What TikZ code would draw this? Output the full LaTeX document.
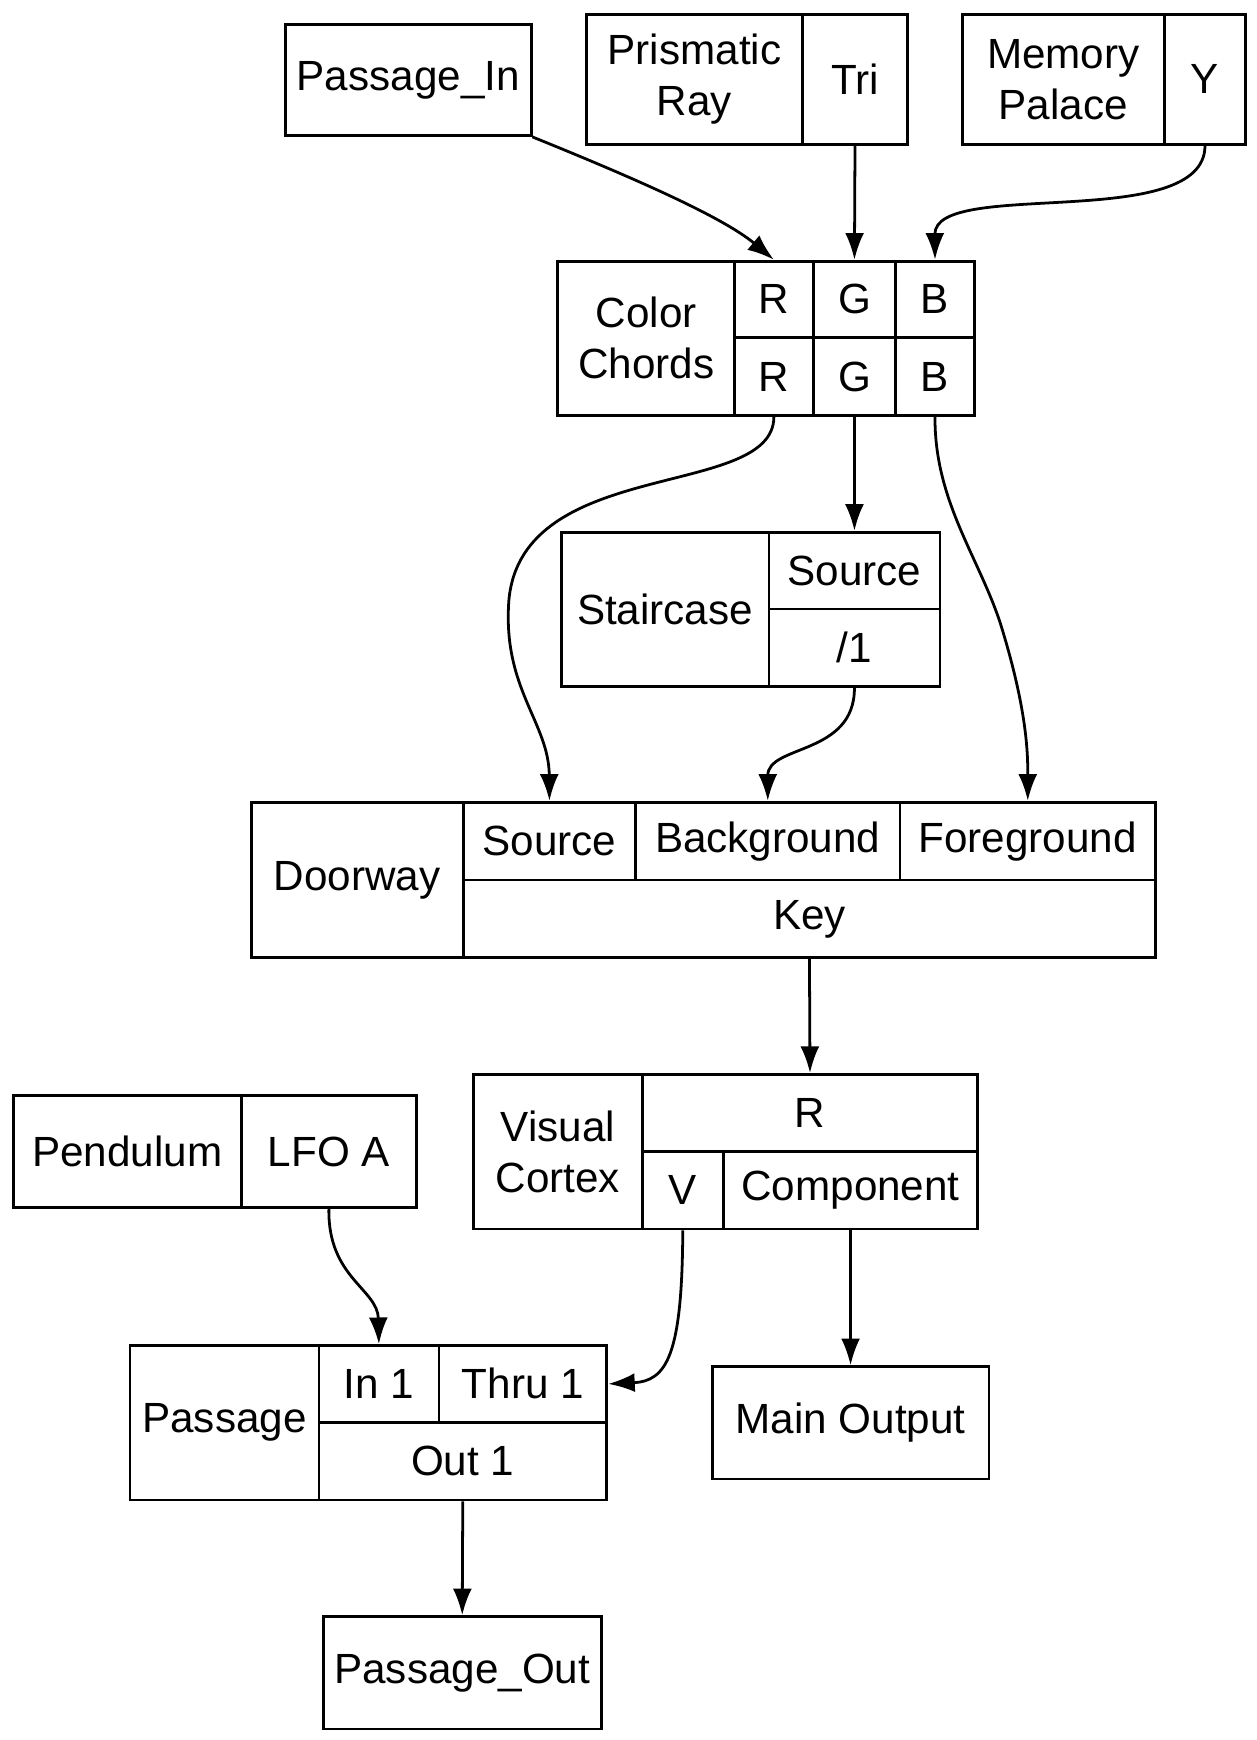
\documentclass[tikz,border=0pt]{standalone}
\usepackage{fontspec}
\setmainfont{Liberation Sans}
\usetikzlibrary{arrows.meta}
\begin{document}
\begin{tikzpicture}[x=1pt,y=-1pt,
  cell/.style={draw,line width=2.5pt,inner sep=0pt,align=center,font=\fontsize{38}{46}\selectfont},
  arr/.style={line width=2.5pt,-{Latex[length=24pt,width=17pt]}}]
\useasboundingbox (0,0) rectangle (1131,1566);
\newcommand{\cel}[6]{\node[cell,minimum width=#4,minimum height=#5] (#1) at (#2,#3) {#6};}
\cel{pin}{367.5}{72}{221}{100}{Passage\_In}
\cel{prL}{625}{71.5}{194}{117}{Prismatic\\Ray}
\cel{prT}{769.5}{71.5}{95}{117}{Tri}
\cel{mpL}{957}{71.5}{182}{117}{Memory\\Palace}
\cel{mpY}{1084.5}{71.5}{73}{117}{Y}
\cel{ccL}{581.5}{304.5}{159}{139}{Color\\Chords}
\cel{ccR1}{696.5}{269.5}{71}{69}{R}
\cel{ccG1}{769}{269.5}{74}{69}{G}
\cel{ccB1}{841.5}{269.5}{71}{69}{B}
\cel{ccR2}{696.5}{339}{71}{70}{R}
\cel{ccG2}{769}{339}{74}{70}{G}
\cel{ccB2}{841.5}{339}{71}{70}{B}
\cel{stL}{598.5}{548.5}{187}{139}{Staircase}
\cel{stS}{769}{513.5}{154}{69}{Source}
\cel{st1}{769}{583}{154}{70}{/1}
\cel{dwL}{321.5}{792}{191}{140}{Doorway}
\cel{dwS}{494.5}{757}{155}{70}{Source}
\cel{dwB}{691}{757}{238}{70}{Background}
\cel{dwF}{925}{757}{230}{70}{Foreground}
\cel{dwK}{728.5}{827}{623}{70}{Key}
\cel{vcL}{502}{1036.5}{152}{139}{Visual\\Cortex}
\cel{vcR}{729}{1001.5}{302}{69}{R}
\cel{vcV}{614.5}{1071}{73}{70}{V}
\cel{vcC}{765.5}{1071}{229}{70}{Component}
\cel{pdL}{114.5}{1036.5}{205}{101}{Pendulum}
\cel{pdF}{296}{1036.5}{158}{101}{LFO A}
\cel{psL}{202}{1280.5}{170}{139}{Passage}
\cel{psI}{341}{1245.5}{108}{69}{In 1}
\cel{psT}{470.5}{1245.5}{151}{69}{Thru 1}
\cel{psO}{416.5}{1315}{259}{70}{Out 1}
\cel{mo}{765.5}{1280.5}{249}{101}{Main Output}
\cel{pout}{416}{1505.5}{250}{101}{Passage\_Out}
\draw[arr] (pin.south east) .. controls (570,160) and (650,195) .. (ccR1.north);
\draw[arr] (prT.south) -- (ccG1.north);
\draw[arr] (mpY.south) .. controls (1084,210) and (841,160) .. (ccB1.north);
\draw[arr] (ccR2.south) .. controls (696,450) and (470,410) .. (458,540) .. controls (452,620) and (494,650) .. (dwS.north);
\draw[arr] (ccG2.south) -- (stS.north);
\draw[arr] (ccB2.south) .. controls (841,450) and (880,500) .. (900,560) .. controls (925,640) and (925,680) .. (dwF.north);
\draw[arr] (st1.south) .. controls (769,680) and (691,670) .. (dwB.north);
\draw[arr] (dwK.south) -- (vcR.north);
\draw[arr] (pdF.south) .. controls (295,1150) and (340,1160) .. (psI.north);
\draw[arr] (vcV.south) .. controls (614,1220) and (600,1243) .. (psT.east);
\draw[arr] (vcC.south) -- (mo.north);
\draw[arr] (psO.south) -- (pout.north);
\end{tikzpicture}
\end{document}
